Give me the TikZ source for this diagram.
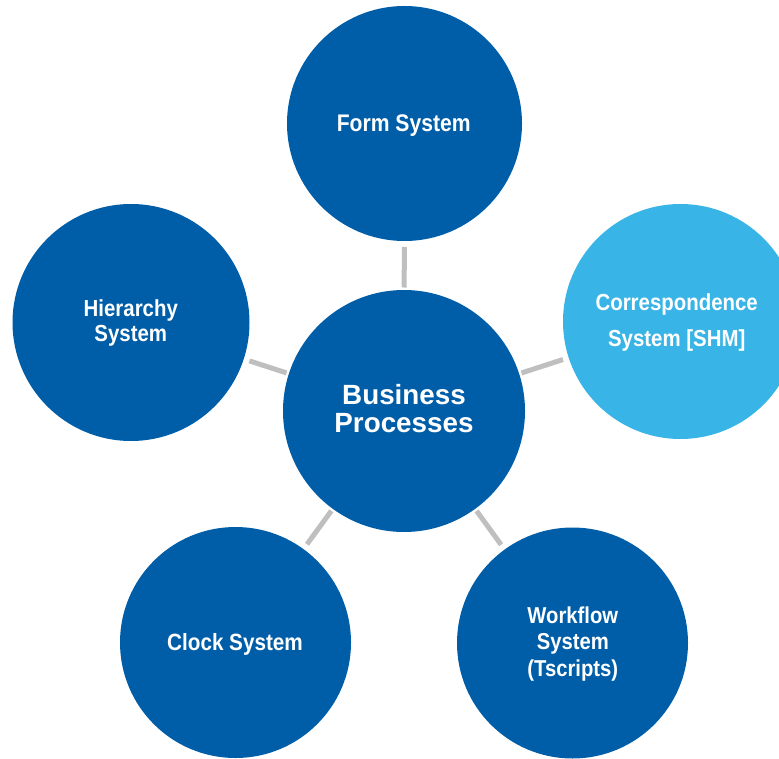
\documentclass[tikz,border=0pt]{standalone}
\usepackage{fontspec}
\setmainfont{Liberation Sans}
\newfontfamily\narrowfont[FakeStretch=0.88]{Liberation Sans}
\definecolor{darkblue}{RGB}{0,94,168}
\definecolor{lightblue}{RGB}{56,180,230}
\definecolor{linkgray}{RGB}{191,191,191}
\tikzset{
  bubble/.style={circle, fill=darkblue, draw=none, inner sep=0pt, outer sep=0pt},
  lbl/.style={text=white, inner sep=0pt, anchor=base},
  link/.style={draw=linkgray, line width=5pt, shorten <=2.5pt, shorten >=6pt},
}
\newcommand{\lines}[1]{\begin{tabular}[t]{@{}c@{}}#1\end{tabular}}
\begin{document}
\begin{tikzpicture}[x=1pt,y=-1pt]
\useasboundingbox (0,0) rectangle (779,759);
\clip (0,0) rectangle (779,759);
% circles
\node[bubble, minimum size=242pt] (bp) at (404,411) {};
\node[bubble, minimum size=235pt] (form) at (404.5,123.5) {};
\node[bubble, minimum size=237pt] (hier) at (131,322.5) {};
\node[bubble, fill=lightblue, minimum size=235pt] (corr) at (680.5,321.5) {};
\node[bubble, minimum size=231pt] (clock) at (235.5,642.5) {};
\node[bubble, minimum size=231pt] (work) at (572.5,643) {};
% connectors
\draw[link] (bp) -- (form);
\draw[link] (bp) -- (hier);
\draw[link] (bp) -- (corr);
\draw[link] (bp) -- (clock);
\draw[link] (bp) -- (work);
% labels
\node[lbl, font=\bfseries\fontsize{27.8}{28.7}\selectfont] (tbp) at (404,404) {\lines{Business\\Processes}};
\node[lbl, font=\narrowfont\bfseries\fontsize{24}{25}\selectfont] (tform) at (403.7,131.7) {Form System};
\node[lbl, font=\narrowfont\bfseries\fontsize{23.2}{25}\selectfont] (thier) at (130.8,316.7) {\lines{Hierarchy\\System}};
\node[lbl, font=\narrowfont\bfseries\fontsize{23.2}{36.7}\selectfont] (tcorr) at (676.7,310) {\lines{Correspondence\\System [SHM]}};
\node[lbl, font=\narrowfont\bfseries\fontsize{23.5}{25}\selectfont] (tclock) at (235,650) {Clock System};
\node[lbl, font=\narrowfont\bfseries\fontsize{23}{26.7}\selectfont] (twork) at (572.8,623) {\lines{Workflow\\System\\(Tscripts)}};
\end{tikzpicture}
\end{document}
